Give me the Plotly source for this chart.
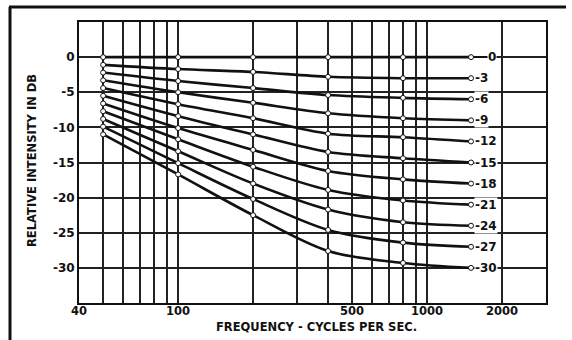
import math
import plotly.graph_objects as go

# Frequencies (c/s) at which each curve is plotted
freqs = [50, 100, 200, 400, 800, 1500]

# Relative intensity (dB) of every curve at each frequency, top curve first
db_50 = [0, -1.1, -2.2, -3.3, -4.4, -5.5, -6.6, -7.7, -8.8, -9.9, -11.0]
db_100 = [0, -1.7, -3.4, -5.0, -6.7, -8.4, -10.1, -11.7, -13.4, -15.1, -16.7]
db_200 = [0, -2.1, -4.4, -6.5, -8.7, -11.0, -13.2, -15.6, -18.0, -20.2, -22.5]
db_400 = [0, -2.8, -5.4, -8.0, -10.9, -13.5, -16.2, -18.9, -21.7, -24.6, -27.6]
db_800 = [0, -3.0, -5.8, -8.7, -11.4, -14.4, -17.4, -20.4, -23.5, -26.4, -29.3]
db_1500 = [0, -3, -6, -9, -12, -15, -18, -21, -24, -27, -30]

# Curve labels written at the right-hand end of each curve
curve_labels = ["0", "-3", "-6", "-9", "-12", "-15", "-18", "-21", "-24", "-27", "-30"]

# Axis ticks
x_grid = [40, 50, 60, 70, 80, 90, 100, 200, 300, 400, 500, 600, 700, 800, 900, 1000, 2000]
x_label_vals = [40, 100, 500, 1000, 2000]
x_label_text = ["40", "100", "500", "1000", "2000"]
y_grid = [0, -5, -10, -15, -20, -25, -30]
y_labels = ["0", "-5", "-10", "-15", "-20", "-25", "-30"]

FONT = "DejaVu Sans"
INK = "#111111"

W, H = 572, 340
ML, MR, MT, MB = 79, 26, 22, 37
PW, PH = W - ML - MR, H - MT - MB


def px_x(px):
    """Convert a page x pixel to paper coordinates."""
    return (px - ML) / PW


def px_y(py):
    """Convert a page y pixel to paper coordinates."""
    return (H - MB - py) / PH


columns = [db_50, db_100, db_200, db_400, db_800, db_1500]

fig = go.Figure()
for i, label in enumerate(curve_labels):
    ys = [col[i] for col in columns]
    fig.add_trace(go.Scatter(
        x=freqs, y=ys, mode="lines+markers",
        line=dict(color=INK, width=2.6, shape="spline", smoothing=0.9),
        marker=dict(symbol="circle", size=5, color="white",
                    line=dict(color=INK, width=1)),
        showlegend=False, hoverinfo="skip", cliponaxis=False,
    ))

annotations = []
x_end = math.log10(freqs[-1])  # log axis: annotation x is given in log10 units
for i, label in enumerate(curve_labels):
    y_end = db_1500[i]
    if label == "0":
        annotations.append(dict(
            x=x_end, y=y_end, xref="x", yref="y", text="<b>0</b>",
            showarrow=True, arrowhead=0, arrowwidth=1.6, arrowcolor=INK,
            ax=16, ay=0, standoff=3, xanchor="left",
            font=dict(family=FONT, size=12, color=INK),
            bgcolor="white", borderpad=0,
        ))
    else:
        annotations.append(dict(
            x=x_end, y=y_end, xref="x", yref="y", text=f"<b>{label}</b>",
            showarrow=False, xanchor="left", yanchor="middle", xshift=3,
            font=dict(family=FONT, size=12, color=INK),
            bgcolor="white", borderpad=0,
        ))

# Frequency tick labels, set just under the plot frame
for v, t in zip(x_label_vals, x_label_text):
    annotations.append(dict(
        x=math.log10(v), y=px_y(311), xref="x", yref="paper",
        xanchor="center", yanchor="middle", showarrow=False,
        text=f"<b>{t}</b>", font=dict(family=FONT, size=11.5, color=INK),
    ))

# Axis titles
annotations.append(dict(
    x=px_x(316), y=px_y(327), xref="paper", yref="paper",
    xanchor="center", yanchor="middle",
    text="<b>FREQUENCY - CYCLES PER SEC.</b>", showarrow=False,
    font=dict(family=FONT, size=11.5, color=INK),
))
annotations.append(dict(
    x=px_x(32), y=px_y(161), xref="paper", yref="paper",
    xanchor="center", yanchor="middle", showarrow=False,
    text="<b>RELATIVE INTENSITY IN DB</b>", textangle=-90,
    font=dict(family=FONT, size=11.5, color=INK),
))

fig.update_layout(
    width=W, height=H,
    margin=dict(l=ML, r=MR, t=MT, b=MB, autoexpand=False),
    paper_bgcolor="white", plot_bgcolor="white",
    font=dict(family=FONT, color=INK),
    annotations=annotations,
    shapes=[
        # outer frame of the figure panel
        dict(type="line", xref="paper", yref="paper",
             x0=px_x(10), x1=px_x(10), y0=px_y(7), y1=px_y(340),
             line=dict(color=INK, width=3)),
        dict(type="line", xref="paper", yref="paper",
             x0=px_x(9), x1=px_x(566), y0=px_y(7), y1=px_y(7),
             line=dict(color=INK, width=3)),
    ],
)

fig.update_xaxes(
    type="log", range=[math.log10(40), math.log10(3000)],
    tickmode="array", tickvals=x_grid, showticklabels=False,
    automargin=False,
    showgrid=True, gridcolor="#222222", gridwidth=1.5,
    showline=True, linecolor=INK, linewidth=2, mirror=True,
    ticks="", zeroline=False,
)
fig.update_yaxes(
    range=[-35, 5], automargin=False,
    tickmode="array", tickvals=y_grid,
    ticktext=[f"<b>{t}</b>" for t in y_labels],
    showgrid=True, gridcolor="#222222", gridwidth=1.5,
    showline=True, linecolor=INK, linewidth=2, mirror=True,
    ticks="", tickfont=dict(family=FONT, size=12, color=INK),
    zeroline=False,
)

fig.write_html("out.html")
